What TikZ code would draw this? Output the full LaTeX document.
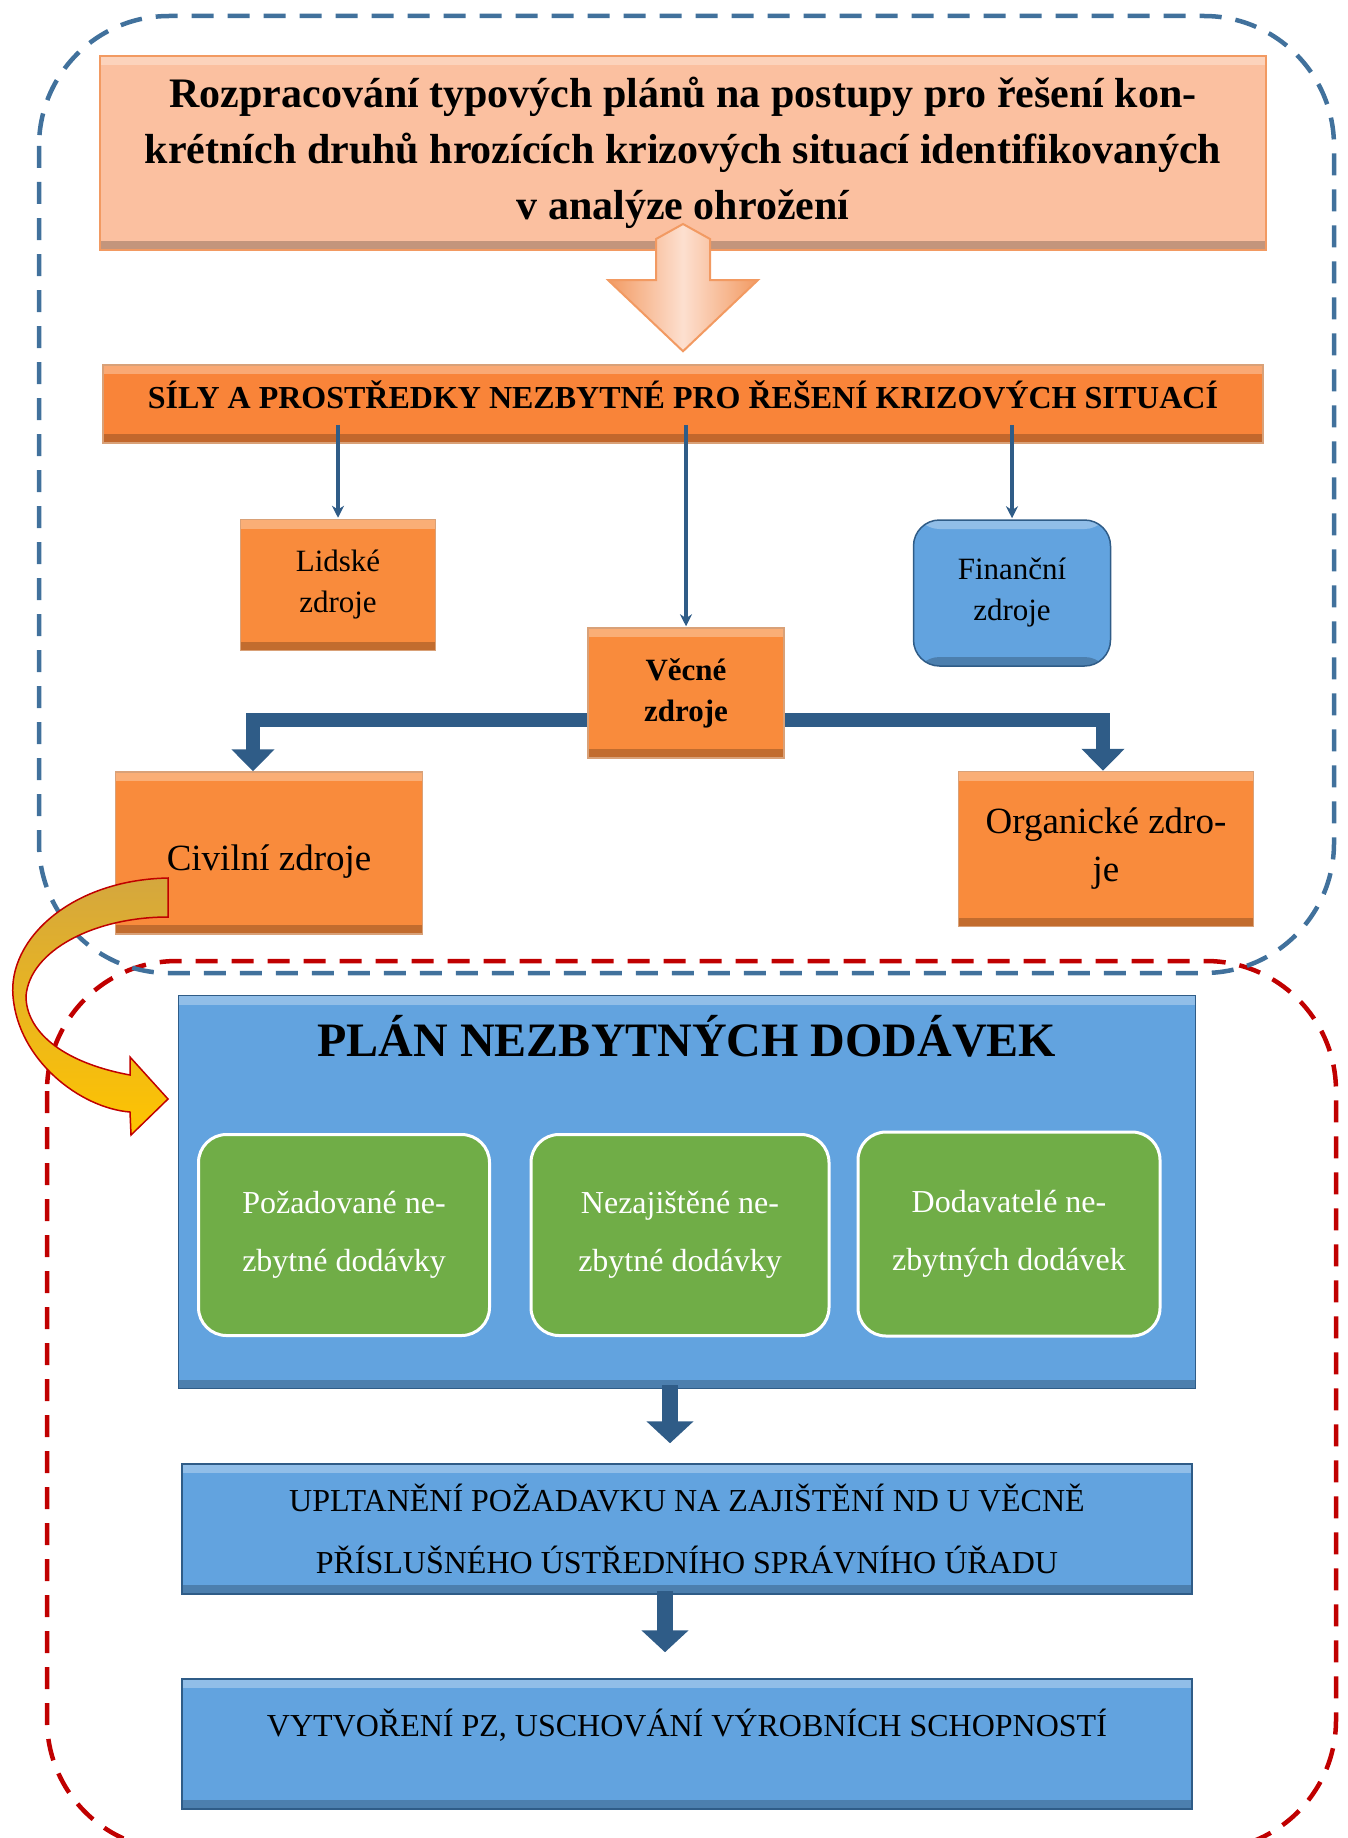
\documentclass[tikz,border=0pt]{standalone}
\usepackage{fontspec}
\setmainfont{Liberation Serif}
\usetikzlibrary{arrows.meta,calc}
\definecolor{peach}{HTML}{FBC0A0}
\definecolor{peachline}{HTML}{F29A62}
\definecolor{orng}{HTML}{F98B3C}
\definecolor{orngdark}{HTML}{C0621E}
\definecolor{skyb}{HTML}{62A3DF}
\definecolor{navyb}{HTML}{2F5C87}
\definecolor{grn}{HTML}{70AD47}
\definecolor{dashb}{HTML}{41719C}
\definecolor{dashr}{HTML}{C00000}
\definecolor{gold}{HTML}{D4A73E}
\definecolor{yell}{HTML}{FFC400}
\tikzset{
    bevel/.style={path picture={
        \fill[white,opacity=.3] (path picture bounding box.north west) rectangle ([yshift=-9pt]path picture bounding box.north east);
        \fill[black,opacity=.22] (path picture bounding box.south west) rectangle ([yshift=9pt]path picture bounding box.south east);}},
    obox/.style={draw=orngdark!60, line width=1.5pt, fill=orng, bevel, inner sep=0pt, align=center, font=\fontsize{31}{41}\selectfont},
    bbox/.style={draw=navyb, line width=1.5pt, fill=skyb, bevel, inner sep=0pt, align=center, font=\fontsize{32}{62}\selectfont},
    gbox/.style={draw=white, line width=3pt, fill=grn, rounded corners=28pt, inner sep=0pt, align=center, text=white, font=\fontsize{32}{58}\selectfont},
    thinarr/.style={navyb, line width=3.5pt, -{Stealth[length=12pt,width=12pt]}},
    fatarr/.style={navyb, line width=14pt, -{Triangle[length=22pt,width=42pt]}},
    downarr/.style={navyb, line width=16pt, -{Triangle[length=22pt,width=46pt]}},
    dashbox/.style={line width=4.5pt, rounded corners=130pt, dash pattern=on 22pt off 14pt},
}
\begin{document}
\begin{tikzpicture}[x=1pt, y=-1pt]
        \useasboundingbox (0,0) rectangle (1348,1838);
        \draw[dashbox, dashr] (47,961) rectangle (1336,1850);
        \draw[dashbox, dashb] (39,16) rectangle (1334,973);
        \node[draw=peachline, line width=2pt, fill=peach, bevel, inner sep=0pt, align=center, minimum width=1166pt, minimum height=194pt,
            font=\fontsize{42}{56}\selectfont\bfseries] (top) at (683,153)
            {Rozpracování typových plánů na postupy pro řešení kon-\\krétních druhů hrozících krizových situací identifikovaných\\v analýze ohrožení};
        \node[obox, fill=orng!95!red, minimum width=1160pt, minimum height=78pt, text depth=18pt, font=\fontsize{32}{40}\selectfont\bfseries] (sily) at (683,404)
            {SÍLY A PROSTŘEDKY NEZBYTNÉ PRO ŘEŠENÍ KRIZOVÝCH SITUACÍ};
        \filldraw[draw=peachline, line width=2pt, left color=peachline, right color=peachline, middle color=peach!50!white]
            ([yshift=27pt]top.south) -- ([xshift=-27pt,yshift=12pt]top.south) -- ([xshift=-27pt,yshift=-29pt]top.south)
            -- ([xshift=-75pt,yshift=-29pt]top.south) -- ([yshift=13pt]sily.north) -- ([xshift=75pt,yshift=-29pt]top.south)
            -- ([xshift=27pt,yshift=-29pt]top.south) -- ([xshift=27pt,yshift=12pt]top.south) -- cycle;
        \node[obox, minimum width=195pt, minimum height=131pt] (lid) at (338,585) {Lidské\\zdroje};
        \node[obox, minimum width=196pt, minimum height=130pt, font=\fontsize{31}{41}\selectfont\bfseries] (vec) at (686,693) {Věcné\\zdroje};
        \node[bbox, rounded corners=26pt, minimum width=197pt, minimum height=146pt, font=\fontsize{31}{41}\selectfont] (fin) at (1012,593) {Finanční\\zdroje};
        \node[obox, minimum width=307pt, minimum height=162pt, text height=42pt, font=\fontsize{37}{48}\selectfont] (civ) at (269,853) {Civilní zdroje};
        \node[obox, minimum width=295pt, minimum height=155pt, font=\fontsize{37}{48}\selectfont] (org) at (1106,849) {Organické zdro-\\je};
        \foreach \n in {lid,vec,fin}
            \draw[thinarr, shorten >=1pt] ($(\n.north |- sily.south)+(0,-19)$) -- (\n.north);
        \draw[fatarr] ($(vec.west)+(0,27)$) -| ($(civ.north)+(-16,0)$);
        \draw[fatarr] ($(vec.east)+(0,27)$) -| ($(org.north)+(-3,0)$);
        \node[bbox, minimum width=1017pt, minimum height=393pt,
            label={[anchor=center, yshift=-42pt, font=\fontsize{48}{56}\selectfont\bfseries]north:PLÁN NEZBYTNÝCH DODÁVEK}] (plan) at (687,1192) {};
        \node[gbox, minimum width=291pt, minimum height=201pt] (g1) at (344,1235) {Požadované ne-\\zbytné dodávky};
        \node[gbox, minimum width=298pt, minimum height=201pt] (g2) at (680,1235) {Nezajištěné ne-\\zbytné dodávky};
        \node[gbox, minimum width=302pt, minimum height=204pt] (g3) at (1009,1234) {Dodavatelé ne-\\zbytných dodávek};
        \node[bbox, minimum width=1010pt, minimum height=130pt] (upl) at (687,1529)
            {UPLTANĚNÍ POŽADAVKU NA ZAJIŠTĚNÍ ND U VĚCNĚ\\PŘÍSLUŠNÉHO ÚSTŘEDNÍHO SPRÁVNÍHO ÚŘADU};
        \node[bbox, minimum width=1010pt, minimum height=130pt, text depth=42pt] (vyt) at (687,1744)
            {VYTVOŘENÍ PZ, USCHOVÁNÍ VÝROBNÍCH SCHOPNOSTÍ};
        \coordinate (a1) at ($(plan.south)+(-17,-4)$);
        \coordinate (a2) at ($(upl.south)+(-22,-4)$);
        \draw[downarr, shorten >=20pt] (a1) -- (a1 |- upl.north);
        \draw[downarr, shorten >=26pt] (a2) -- (a2 |- vyt.north);
        \filldraw[draw=dashr, line width=1.5pt, top color=gold, bottom color=yell]
            (168,878) .. controls (70,880) and (8,940) .. (13,996) .. controls (18,1060) and (80,1108) .. (130,1112)
            -- (131,1135) -- (168,1099) -- (130,1057) -- (130,1075)
            .. controls (60,1062) and (26,1030) .. (26,996) .. controls (30,950) and (95,917) .. (168,917) -- cycle;
    \end{tikzpicture}
\end{document}
